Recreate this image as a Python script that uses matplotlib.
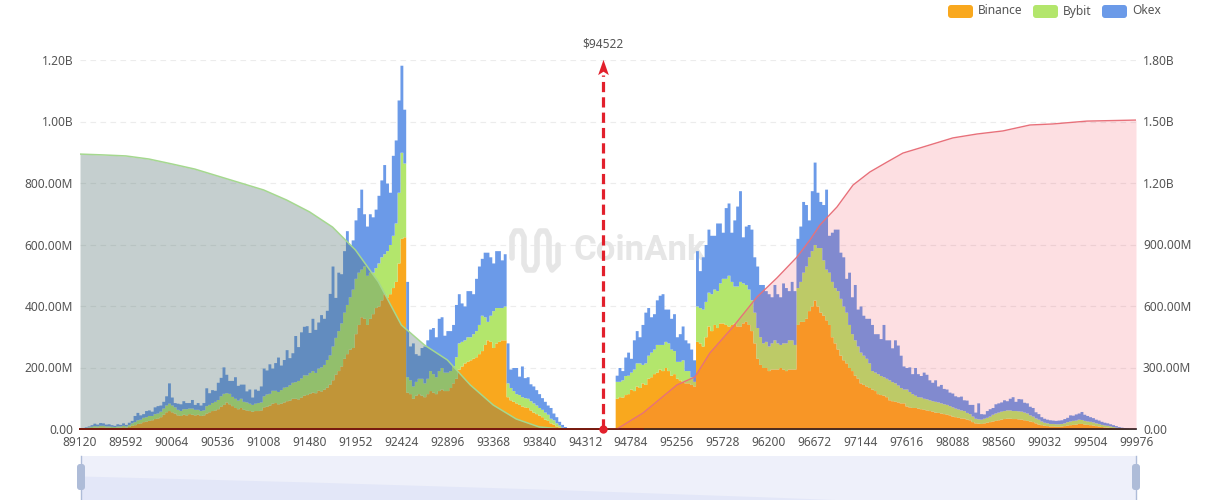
import numpy as np
import matplotlib
matplotlib.use("Agg")
import matplotlib.pyplot as plt
from matplotlib.patches import FancyBboxPatch
from matplotlib.path import Path

plt.rcParams["font.family"] = ["Noto Sans", "DejaVu Sans"]

# liquidation price bins, 16 per axis tick
price_bins = 89120 + np.arange(369) * 29.5
tick_prices = np.arange(89120, 99977, 472)

# values in millions, one row per axis tick
binance = [
    1, 2, 3, 4, 5, 6, 6, 7, 7, 6, 6, 5, 5, 6, 6, 7,
    6, 8, 12, 14, 18, 20, 24, 26, 28, 30, 34, 36, 40, 48, 56, 60,
    56, 52, 46, 44, 48, 46, 50, 48, 46, 48, 44, 46, 52, 56, 60, 62,
    66, 74, 80, 88, 82, 76, 70, 66, 70, 64, 62, 60, 58, 60, 60, 62,
    72, 74, 78, 84, 86, 82, 84, 88, 92, 94, 100, 100, 98, 104, 110, 112,
    116, 120, 118, 126, 124, 130, 136, 146, 160, 178, 190, 205, 230, 245, 260, 265,
    310, 340, 365, 360, 340, 360, 375, 395, 400, 420, 440, 430, 440, 460, 480, 540,
    620, 625, 120, 115, 100, 110, 115, 110, 105, 115, 125, 120, 115, 125, 130, 125,
    125, 135, 150, 165, 195, 205, 215, 220, 225, 230, 235, 245, 255, 275, 290, 285,
    265, 280, 285, 290, 290, 105, 95, 90, 85, 80, 75, 72, 70, 62, 55, 50,
    45, 40, 32, 28, 20, 16, 10, 7, 3, 2, 0, 0, 0, 0, 0, 0,
    0, 0, 0, 0, 0, 0, 0, 0, 0, 0, 0, 100, 105, 104, 112, 115,
    130, 125, 140, 135, 150, 145, 165, 170, 180, 185, 195, 190, 200, 190, 175, 180,
    165, 160, 155, 150, 150, 145, 140, 285, 280, 270, 300, 335, 320, 340, 330, 345,
    345, 340, 335, 340, 345, 335, 335, 345, 350, 340, 320, 280, 230, 210, 200, 200,
    190, 195, 195, 195, 200, 195, 190, 195, 195, 195, 340, 350, 350, 360, 385, 400,
    419, 400, 380, 370, 355, 340, 300, 280, 260, 240, 225, 215, 200, 190, 175, 165,
    150, 145, 140, 135, 130, 125, 115, 112, 110, 105, 95, 92, 90, 88, 85, 85,
    75, 72, 70, 70, 68, 66, 64, 62, 60, 58, 55, 54, 52, 50, 48, 46,
    42, 40, 38, 36, 35, 32, 30, 24, 20, 19, 18, 20, 22, 24, 26, 28,
    30, 32, 34, 35, 35, 34, 34, 33, 32, 30, 28, 26, 24, 20, 16, 14,
    12, 11, 10, 10, 9, 9, 10, 11, 13, 14, 15, 16, 18, 18, 16, 15,
    14, 13, 11, 10, 8, 7, 6, 5, 4, 3, 2, 2, 1, 1, 0, 0,
    0,
]
bybit = [
    1, 2, 2, 3, 4, 5, 4, 5, 5, 4, 4, 4, 3, 4, 4, 5,
    4, 6, 8, 10, 12, 12, 14, 14, 16, 14, 16, 16, 18, 20, 22, 24,
    22, 20, 18, 16, 18, 20, 18, 20, 18, 16, 16, 16, 24, 24, 26, 28,
    30, 34, 36, 30, 34, 30, 30, 28, 30, 26, 26, 24, 22, 24, 26, 26,
    36, 40, 38, 42, 40, 40, 44, 48, 46, 50, 52, 54, 60, 62, 66, 64,
    68, 70, 66, 72, 78, 80, 90, 95, 110, 120, 130, 140, 150, 160, 170, 190,
    180, 170, 155, 170, 160, 150, 135, 130, 140, 140, 130, 150, 160, 170, 190, 230,
    280, 240, 50, 45, 40, 45, 50, 55, 45, 50, 65, 60, 55, 65, 70, 60,
    60, 55, 55, 70, 85, 80, 75, 80, 75, 80, 85, 95, 115, 90, 60, 85,
    120, 115, 110, 105, 110, 45, 40, 35, 30, 32, 30, 30, 30, 30, 30, 28,
    25, 24, 23, 20, 15, 14, 10, 6, 3, 2, 1, 0, 0, 0, 0, 0,
    0, 0, 0, 0, 0, 0, 0, 0, 0, 0, 0, 55, 50, 56, 62, 60,
    55, 70, 75, 80, 60, 70, 75, 80, 80, 90, 80, 85, 85, 90, 85, 75,
    55, 60, 70, 40, 40, 25, 15, 115, 115, 120, 115, 110, 120, 115, 120, 130,
    145, 150, 165, 140, 120, 130, 145, 130, 120, 115, 100, 100, 100, 90, 80, 85,
    80, 85, 95, 85, 75, 85, 90, 95, 95, 80, 120, 130, 160, 170, 175, 180,
    181, 190, 210, 180, 165, 170, 180, 180, 190, 185, 175, 165, 140, 120, 115, 105,
    100, 95, 90, 80, 60, 60, 65, 62, 60, 60, 65, 62, 60, 55, 50, 45,
    55, 50, 45, 40, 37, 38, 36, 36, 35, 34, 35, 34, 33, 32, 32, 30,
    30, 28, 27, 26, 25, 22, 20, 18, 15, 14, 14, 15, 16, 18, 22, 24,
    25, 26, 26, 27, 27, 26, 26, 26, 26, 25, 24, 20, 18, 16, 16, 12,
    10, 9, 8, 8, 8, 8, 8, 9, 11, 12, 13, 13, 14, 13, 12, 11,
    11, 10, 9, 8, 7, 6, 6, 5, 4, 3, 3, 2, 1, 1, 1, 0,
    0,
]
okex = [
    0, 1, 2, 3, 5, 8, 6, 9, 8, 6, 7, 5, 4, 7, 5, 8,
    5, 8, 8, 20, 24, 14, 12, 20, 18, 14, 22, 24, 20, 22, 30, 66,
    26, 14, 20, 22, 26, 20, 18, 28, 16, 22, 18, 24, 58, 38, 42, 36,
    56, 60, 86, 60, 42, 52, 70, 48, 46, 56, 36, 46, 24, 46, 40, 52,
    90, 78, 96, 72, 90, 112, 80, 90, 120, 88, 96, 150, 110, 150, 158, 160,
    130, 170, 140, 150, 170, 150, 160, 200, 260, 130, 190, 160, 200, 240, 170, 160,
    190, 210, 260, 170, 160, 190, 180, 190, 220, 250, 290, 220, 170, 260, 270, 300,
    283, 175, 310, 110, 140, 90, 75, 100, 120, 125, 135, 150, 130, 170, 165, 120,
    135, 130, 135, 170, 160, 125, 110, 150, 150, 130, 170, 190, 185, 210, 225, 190,
    155, 185, 185, 155, 170, 130, 60, 75, 85, 60, 100, 65, 70, 55, 55, 50,
    45, 38, 35, 30, 35, 22, 20, 12, 9, 4, 1, 0, 0, 0, 0, 0,
    0, 0, 0, 0, 0, 0, 0, 0, 0, 0, 0, 20, 45, 30, 60, 75,
    45, 95, 105, 85, 130, 165, 155, 115, 115, 145, 160, 165, 105, 110, 100, 120,
    80, 90, 110, 100, 90, 90, 70, 180, 120, 170, 185, 205, 190, 175, 220, 195,
    150, 230, 235, 160, 215, 260, 295, 150, 190, 210, 230, 180, 200, 170, 190, 165,
    170, 150, 180, 160, 155, 195, 180, 160, 190, 175, 160, 180, 230, 200, 120, 195,
    268, 180, 150, 180, 260, 120, 160, 190, 200, 150, 160, 110, 170, 120, 180, 120,
    150, 130, 130, 145, 150, 125, 130, 120, 170, 125, 130, 110, 140, 130, 105, 75,
    70, 80, 65, 90, 75, 70, 85, 80, 65, 60, 70, 52, 60, 50, 50, 44,
    45, 40, 40, 45, 35, 40, 30, 38, 20, 52, 18, 14, 22, 24, 22, 30,
    30, 30, 35, 30, 38, 45, 30, 40, 40, 32, 33, 28, 28, 20, 18, 14,
    13, 12, 12, 11, 11, 12, 12, 14, 14, 20, 17, 20, 20, 26, 20, 18,
    15, 14, 12, 11, 10, 9, 8, 7, 6, 5, 3, 2, 2, 1, 0, 0,
    0,
]

# cumulative curves, right axis, millions
long_prices = [89120, 89356, 89592, 89828, 90064, 90300, 90536, 90772, 91008, 91244, 91480,
               91716, 91952, 92188, 92424, 92660, 92896, 93132, 93368, 93604, 93840, 94076, 94312, 94500]
long_cum = [1341, 1337, 1332, 1317, 1293, 1268, 1234, 1200, 1166, 1117, 1059,
            985, 873, 717, 507, 410, 337, 215, 117, 49, 10, 0, 0, 0]
short_prices = [94500, 94640, 94908, 95257, 95442, 95596, 95833, 96080, 96285, 96491, 96624, 96727,
                96902, 97067, 97241, 97416, 97580, 97755, 98094, 98341, 98608, 98886, 99122, 99472, 99976]
short_cum = [0, 0, 78, 215, 254, 371, 498, 644, 737, 839, 922, 995,
             1083, 1190, 1254, 1302, 1346, 1371, 1420, 1439, 1454, 1483, 1488, 1502, 1507]

left_ticks = [0, 200, 400, 600, 800, 1000, 1200]
left_labels = ["0.00", "200.00M", "400.00M", "600.00M", "800.00M", "1.00B", "1.20B"]
right_ticks = [0, 300, 600, 900, 1200, 1500, 1800]
right_labels = ["0.00", "300.00M", "600.00M", "900.00M", "1.20B", "1.50B", "1.80B"]
legend_names = ["Binance", "Bybit", "Okex"]

current_label = "$94522"
current_pos = 94500
current_top = 1200

# slider shadow, in slider axes units
slider_x = [89120, 91480, 93840, 96200, 97000]
slider_y = [24, 18, 11, 3, 0]

BINANCE_C = "#f9a81e"
BYBIT_C = "#b3e66c"
OKEX_C = "#6b9ae8"
TEXT_C = "#555555"

W, H = 1216, 500
fig = plt.figure(figsize=(W / 100, H / 100), dpi=100)
ax = fig.add_axes([80 / W, 1 - 429 / H, 1056 / W, 369 / H])

# stacked by hand so the tops can be stepped
bottom = np.zeros(len(price_bins))
for values, color in zip([binance, bybit, okex], [BINANCE_C, BYBIT_C, OKEX_C]):
    top = bottom + np.array(values)
    ax.fill_between(price_bins, bottom, top, step="mid", color=color, linewidth=0, zorder=2)
    bottom = top

ax.set_xlim(price_bins[0], price_bins[-1])
ax.set_ylim(0, 1200)
ax.set_xticks(tick_prices)
ax.set_xticklabels([str(p) for p in tick_prices])
ax.set_yticks(left_ticks)
ax.set_yticklabels(left_labels)
ax.tick_params(axis="both", length=0, labelsize=8.6, labelcolor=TEXT_C)
ax.tick_params(axis="x", pad=5)
ax.tick_params(axis="y", pad=5)
ax.grid(axis="y", color="#ececec", linestyle=(0, (5, 4)), linewidth=0.8)
ax.set_axisbelow(True)
for side in ["top", "left", "right"]:
    ax.spines[side].set_visible(False)
ax.spines["bottom"].set_color("#111111")
ax.spines["bottom"].set_linewidth(1.2)
ax.spines["bottom"].set_zorder(6)

# watermark, sits under the bars
ax.text(0.467, 0.485, "CoinAnk", transform=ax.transAxes, fontsize=25, fontweight="bold", family="Roboto",
        color="#e6e6e6", ha="left", va="center", zorder=1)
logo_x = [512, 512, 515, 521, 524, 524, 527, 534, 537, 537, 540, 546, 549, 549, 552, 558, 558]
logo_y = [258, 237, 231, 231, 237, 264, 270, 270, 264, 237, 231, 231, 237, 264, 270, 264, 245]
logo_xy = np.array([(x, H - y) for x, y in zip(logo_x, logo_y)])
ax.plot(logo_xy[:, 0], logo_xy[:, 1], transform=None, color="#e6e6e6", linewidth=4,
        solid_capstyle="round", solid_joinstyle="round", zorder=1)

# cumulative curves go on top of the bars
ax2 = ax.twinx()
ax2.set_ylim(0, 1800)
ax2.set_yticks(right_ticks)
ax2.set_yticklabels(right_labels)
ax2.tick_params(axis="y", length=0, labelsize=8.6, labelcolor=TEXT_C, pad=5)
for side in ["top", "left", "right", "bottom"]:
    ax2.spines[side].set_visible(False)
ax2.fill_between(long_prices, long_cum, 0, color="#50706e", alpha=0.33, linewidth=0)
ax2.plot(long_prices, long_cum, color="#a5d88f", linewidth=1.1)
ax2.fill_between(short_prices, short_cum, 0, color="#f53c50", alpha=0.16, linewidth=0)
ax2.plot(short_prices, short_cum, color="#e8707a", linewidth=1.0)
ax2.plot([price_bins[0], current_pos], [0, 0], color="#7a1a10", linewidth=1.4, clip_on=False)
ax2.plot([short_prices[0], short_prices[2]], [0, 0], color="#7a1a10", linewidth=1.2, clip_on=False)

# current price arrow
ax3 = ax.twinx()
ax3.set_ylim(0, 1200)
ax3.axis("off")
ax3.plot([current_pos, current_pos], [0, current_top - 50], color="#e2202c", linewidth=2.3,
         linestyle=(0, (3.2, 1.6)), zorder=5)
head = Path([(0, 1), (0.7, -1), (0, -0.55), (-0.7, -1), (0, 1)],
            [Path.MOVETO, Path.LINETO, Path.LINETO, Path.LINETO, Path.CLOSEPOLY])
ax3.plot([current_pos], [current_top - 23], marker=head, markersize=11, color="#e2202c",
         markeredgewidth=0, zorder=6, clip_on=False)
ax3.plot([current_pos], [0], marker="o", markersize=6, color="#e2202c", markeredgewidth=0,
         zorder=6, clip_on=False)
ax3.text(current_pos, current_top + 52, current_label.replace("$", r"\$"), ha="center", va="center",
         fontsize=8.6, color=TEXT_C)

# legend drawn by hand, pixel spots from the top edge
legend_left = [948, 1033, 1102]
for name, color, lx in zip(legend_names, [BINANCE_C, BYBIT_C, OKEX_C], legend_left):
    fig.add_artist(FancyBboxPatch((lx, H - 18), 25, 13, boxstyle="round,pad=0,rounding_size=3",
                                  facecolor=color, edgecolor="none", transform=None))
    fig.text((lx + 30) / W, 1 - 11 / H, name, fontsize=8.6, color=TEXT_C, va="center", ha="left")

# bottom zoom slider
sl = fig.add_axes([81 / W, 0, 1055 / W, 44 / H])
sl.set_xlim(price_bins[0], price_bins[-1])
sl.set_ylim(0, 44)
sl.set_facecolor("#eef0fa")
sl.set_xticks([])
sl.set_yticks([])
for side in sl.spines:
    sl.spines[side].set_visible(False)
sl.fill_between(slider_x, slider_y, 0, color="#e3e7f8", linewidth=0)
for end in [price_bins[0], price_bins[-1]]:
    sl.axvline(end, color="#aebcd8", linewidth=1, clip_on=False)
    cx = 81 + (end - price_bins[0]) / (price_bins[-1] - price_bins[0]) * 1055
    fig.add_artist(FancyBboxPatch((cx - 4, 10), 8, 26, boxstyle="round,pad=0,rounding_size=3",
                                  facecolor="#aebcd8", edgecolor="none", transform=None, zorder=10))

fig.savefig("out.png", dpi=100)
plt.close(fig)
